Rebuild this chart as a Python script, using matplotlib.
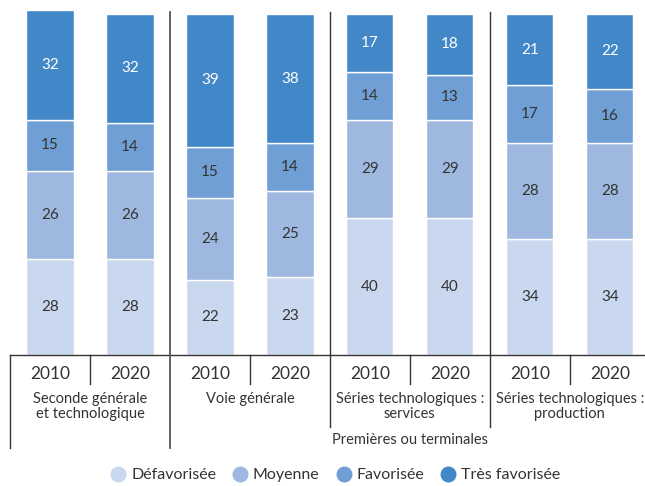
"""Origine sociale des élèves par voie, 2010 vs 2020."""

import matplotlib

matplotlib.use("Agg")
import matplotlib.pyplot as plt
import numpy as np
from matplotlib.lines import Line2D

plt.rcParams["font.family"] = ["Lato", "DejaVu Sans"]

TEXT = "#333333"
COLORS = ["#CAD8EF", "#9EB8E0", "#6F9FD4", "#4288C8"]

series_names = ["Défavorisée", "Moyenne", "Favorisée", "Très favorisée"]
years = ["2010", "2020"] * 4
groups = [
    "Seconde générale\net technologique",
    "Voie générale",
    "Séries technologiques :\nservices",
    "Séries technologiques :\nproduction",
]
super_group = "Premières ou terminales"

defavorisee = [28, 28, 22, 23, 40, 40, 34, 34]
moyenne = [26, 26, 24, 25, 29, 29, 28, 28]
favorisee = [15, 14, 15, 14, 14, 13, 17, 16]
tres_favorisee = [32, 32, 39, 38, 17, 18, 21, 22]

values = np.array([defavorisee, moyenne, favorisee, tres_favorisee])

W, H = 645, 486
fig = plt.figure(figsize=(W / 100, H / 100), dpi=100)
# axes: left 10px, baseline at 355px, top at 12px (pixel rows from top)
ax = fig.add_axes([10 / W, (H - 355) / H, (W - 10) / W, 343 / H])
ax.set_xlim(-0.5, 7.44)
ax.set_ylim(0, 100.5)
ax.axis("off")

x = np.arange(len(years))
bottom = np.zeros(len(years))
for k, (name, vals) in enumerate(zip(series_names, values)):
    ax.bar(x, vals, bottom=bottom, width=0.59, color=COLORS[k],
           edgecolor="white", linewidth=1.0, clip_on=False, label=name)
    for xi, v, b in zip(x, vals, bottom):
        ax.text(xi, b + v / 2, str(v), ha="center", va="center", fontsize=11,
                color="white" if k == 3 else TEXT)
    bottom += vals

trans = ax.get_xaxis_transform()


def fy(px):
    """Pixel row (from figure top) -> axes fraction."""
    return -(px - 355) / 343


line_kw = dict(color="#333333", linewidth=1.0, transform=trans, clip_on=False)
# baseline
ax.plot([-0.5, 7.6], [0, 0], **line_kw)
# left edge, below baseline
ax.plot([-0.5, -0.5], [0, fy(448)], **line_kw)
# group separators
ax.plot([1.5, 1.5], [1, fy(448)], color="#555555", linewidth=1.3,
        transform=trans, clip_on=False)
for xs in (3.5, 5.5):
    ax.plot([xs, xs], [1, fy(427)], **line_kw)
# year dividers
for xs in (0.5, 2.5, 4.5, 6.5):
    ax.plot([xs, xs], [0, fy(384)], **line_kw)

for xi, yr in zip(x, years):
    ax.text(xi, fy(374), yr, transform=trans, ha="center", va="center",
            fontsize=12.5, color=TEXT)

for g, label in enumerate(groups):
    ax.text(2 * g + 0.5, fy(392), label, transform=trans, ha="center",
            va="top", fontsize=10.5, color=TEXT, linespacing=1.05)

ax.text(4.5, fy(440), super_group, transform=trans, ha="center",
        va="center", fontsize=10.5, color=TEXT)

handles = [Line2D([], [], marker="o", linestyle="", markersize=10.5,
                  markerfacecolor=c, markeredgecolor=c) for c in COLORS]
fig.legend(handles, series_names, loc="center", bbox_to_anchor=(0.516, 0.022),
           ncol=4, frameon=False, fontsize=11.5, handletextpad=0.0,
           columnspacing=0.7, handlelength=1.6, labelcolor=TEXT)

fig.savefig("out.png", dpi=100)
